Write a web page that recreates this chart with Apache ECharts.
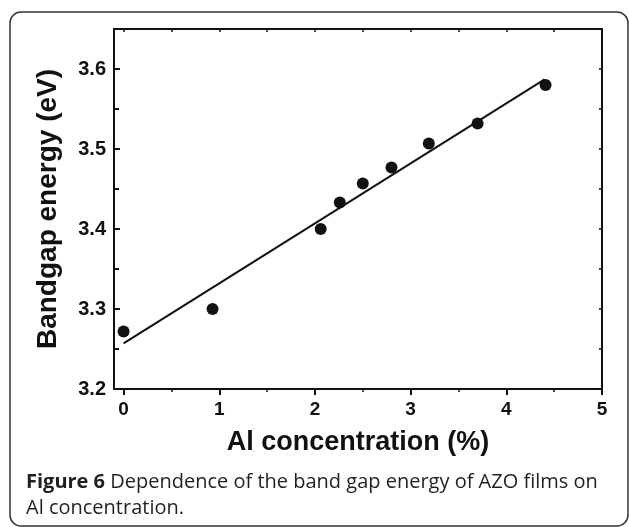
<!DOCTYPE html>
<html>
<head>
<meta charset="utf-8">
<script src="https://cdn.jsdelivr.net/npm/echarts@6/dist/echarts.min.js"></script>
<style>
  html, body { margin: 0; padding: 0; background: #fff; }
  #chart { width: 629px; height: 527px; }
</style>
</head>
<body>
<div id="chart"></div>
<script>
// Measured Al concentration (%) and optical band gap (eV) of the AZO films
const alConcentration = [0, 0.93, 2.06, 2.26, 2.5, 2.8, 3.19, 3.7, 4.41];
const bandgapEnergy = [3.272, 3.300, 3.400, 3.433, 3.457, 3.477, 3.507, 3.532, 3.580];

// Linear fit drawn through the data (end points)
const fitX = [0, 4.40];
const fitY = [3.257, 3.587];

// Axis ticks
const xMajorTicks = [0, 1, 2, 3, 4, 5];
const xMinorTicks = [0.5, 1.5, 2.5, 3.5, 4.5];
const yMajorTicks = [3.2, 3.3, 3.4, 3.5, 3.6];
const yMinorTicks = [3.25, 3.35, 3.45, 3.55];

const xTitle = 'Al concentration (%)';
const yTitle = 'Bandgap energy (eV)';
const captionBold = 'Figure 6';
const captionLine1 = ' Dependence of the band gap energy of AZO films on';
const captionLine2 = 'Al concentration.';

const ink = '#111';
const axisFont = 'Liberation Sans, Arial, Helvetica, sans-serif';
const captionFont = '"Open Sans", "Noto Sans", sans-serif';

const chart = echarts.init(document.getElementById('chart'), null, { renderer: 'canvas' });

const xRange = { min: -0.1, max: 5 };
const yRange = { min: 3.2, max: 3.65 };

const hiddenLabel = { show: false };
const lineStyle = { color: ink, width: 2 };

chart.setOption({
  animation: false,
  backgroundColor: '#fff',
  grid: { left: 114, top: 29, right: 27, bottom: 138, containLabel: false },
  xAxis: [
    {
      type: 'value', position: 'bottom', ...xRange,
      axisLine: { show: true, onZero: false, lineStyle },
      axisTick: { show: true, inside: false, length: 6, lineStyle, customValues: xMajorTicks },
      axisLabel: {
        show: true, margin: 11, customValues: xMajorTicks,
        color: ink, fontFamily: axisFont, fontWeight: 'bold', fontSize: 19
      },
      splitLine: { show: false },
      name: xTitle, nameLocation: 'middle', nameGap: 40,
      nameTextStyle: { color: ink, fontFamily: axisFont, fontWeight: 'bold', fontSize: 27 }
    },
    {
      type: 'value', position: 'bottom', ...xRange,
      axisLine: { show: false, onZero: false },
      axisTick: { show: true, inside: false, length: 3, lineStyle: { color: ink, width: 1.5 }, customValues: xMinorTicks },
      axisLabel: hiddenLabel,
      splitLine: { show: false }
    },
    {
      type: 'value', position: 'top', ...xRange,
      axisLine: { show: true, onZero: false, lineStyle },
      axisTick: { show: true, inside: true, length: 3, lineStyle: { color: ink, width: 1.5 }, customValues: xMajorTicks.concat(xMinorTicks) },
      axisLabel: hiddenLabel,
      splitLine: { show: false }
    }
  ],
  yAxis: [
    {
      type: 'value', position: 'left', ...yRange,
      axisLine: { show: true, onZero: false, lineStyle },
      axisTick: { show: true, inside: true, length: 6, lineStyle, customValues: yMajorTicks },
      axisLabel: {
        show: true, margin: 8, customValues: yMajorTicks,
        formatter: v => v.toFixed(1),
        color: ink, fontFamily: axisFont, fontWeight: 'bold', fontSize: 20
      },
      splitLine: { show: false },
      name: yTitle, nameLocation: 'middle', nameGap: 52, nameRotate: 90,
      nameTextStyle: { color: ink, fontFamily: axisFont, fontWeight: 'bold', fontSize: 28 }
    },
    {
      type: 'value', position: 'left', ...yRange,
      axisLine: { show: false, onZero: false },
      axisTick: { show: true, inside: true, length: 5, lineStyle, customValues: yMinorTicks },
      axisLabel: hiddenLabel,
      splitLine: { show: false }
    },
    {
      type: 'value', position: 'right', ...yRange,
      axisLine: { show: true, onZero: false, lineStyle },
      axisTick: { show: true, inside: true, length: 3, lineStyle: { color: ink, width: 1.5 }, customValues: yMajorTicks.concat(yMinorTicks) },
      axisLabel: hiddenLabel,
      splitLine: { show: false }
    }
  ],
  series: [
    {
      type: 'line', xAxisIndex: 0, yAxisIndex: 0,
      data: fitX.map((x, i) => [x, fitY[i]]),
      showSymbol: false, symbol: 'none',
      lineStyle: { color: ink, width: 2 },
      z: 2
    },
    {
      type: 'scatter', xAxisIndex: 0, yAxisIndex: 0,
      data: alConcentration.map((x, i) => [x, bandgapEnergy[i]]),
      symbol: 'circle', symbolSize: 12,
      itemStyle: { color: ink, opacity: 1 },
      z: 3
    }
  ],
  graphic: [
    {
      type: 'rect', silent: true, z: -1,
      shape: { x: 10, y: 12, width: 618, height: 514, r: 11 },
      style: { fill: 'none', stroke: '#333', lineWidth: 1.5 }
    },
    {
      type: 'text', silent: true, left: 26, top: 472,
      style: {
        text: '{b|' + captionBold + '}{r|' + captionLine1 + '}',
        rich: {
          b: { fontFamily: captionFont, fontWeight: 'bold', fontSize: 20, fill: '#231f20' },
          r: { fontFamily: captionFont, fontWeight: 'normal', fontSize: 20, fill: '#231f20' }
        }
      }
    },
    {
      type: 'text', silent: true, left: 26, top: 498,
      style: {
        text: captionLine2,
        fontFamily: captionFont, fontWeight: 'normal', fontSize: 20, fill: '#231f20'
      }
    }
  ]
});
</script>
</body>
</html>
